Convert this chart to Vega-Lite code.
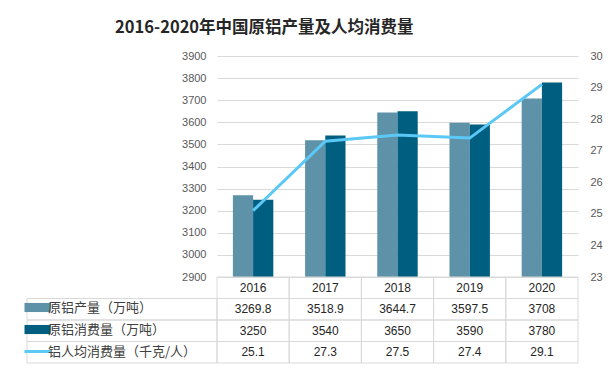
{
  "$schema": "https://vega.github.io/schema/vega-lite/v6.json",
  "padding": {"left": 26, "top": 19, "right": 8, "bottom": 6},
  "title": {
    "text": "2016-2020年中国原铝产量及人均消费量",
    "anchor": "middle",
    "dx": -50,
    "offset": 14,
    "fontSize": 16.5,
    "fontWeight": "bold",
    "font": "Noto Sans CJK SC",
    "color": "#262626"
  },
  "datasets": {
    "rows": [
      {"year": "2016", "series": "原铝产量（万吨）", "value": 3269.8},
      {"year": "2017", "series": "原铝产量（万吨）", "value": 3518.9},
      {"year": "2018", "series": "原铝产量（万吨）", "value": 3644.7},
      {"year": "2019", "series": "原铝产量（万吨）", "value": 3597.5},
      {"year": "2020", "series": "原铝产量（万吨）", "value": 3708},
      {"year": "2016", "series": "原铝消费量（万吨）", "value": 3250},
      {"year": "2017", "series": "原铝消费量（万吨）", "value": 3540},
      {"year": "2018", "series": "原铝消费量（万吨）", "value": 3650},
      {"year": "2019", "series": "原铝消费量（万吨）", "value": 3590},
      {"year": "2020", "series": "原铝消费量（万吨）", "value": 3780},
      {"year": "2016", "series": "铝人均消费量（千克/人）", "value": 25.1},
      {"year": "2017", "series": "铝人均消费量（千克/人）", "value": 27.3},
      {"year": "2018", "series": "铝人均消费量（千克/人）", "value": 27.5},
      {"year": "2019", "series": "铝人均消费量（千克/人）", "value": 27.4},
      {"year": "2020", "series": "铝人均消费量（千克/人）", "value": 29.1}
    ],
    "years": [
      {"year": "2016"}, {"year": "2017"}, {"year": "2018"}, {"year": "2019"}, {"year": "2020"}
    ],
    "series": [
      {"series": "原铝产量（万吨）"},
      {"series": "原铝消费量（万吨）"},
      {"series": "铝人均消费量（千克/人）"}
    ]
  },
  "columns": 2,
  "spacing": {"row": 0, "column": 0},
  "bounds": "flush",
  "align": "each",
  "resolve": {
    "scale": {"color": "independent", "x": "independent", "y": "independent"},
    "legend": {"color": "independent"}
  },
  "concat": [
    {
      "width": 190,
      "height": 221,
      "data": {"values": []},
      "mark": "point"
    },
    {
      "width": 361,
      "height": 221,
      "data": {"name": "rows"},
      "encoding": {
        "x": {
          "field": "year",
          "type": "nominal",
          "scale": {"paddingInner": 0.44, "paddingOuter": 0.22},
          "axis": null
        }
      },
      "layer": [
        {
          "transform": [{"filter": "datum.series !== '铝人均消费量（千克/人）'"}],
          "mark": {"type": "bar", "clip": true},
          "encoding": {
            "xOffset": {
              "field": "series",
              "type": "nominal",
              "sort": ["原铝产量（万吨）", "原铝消费量（万吨）"],
              "scale": {"paddingInner": 0, "paddingOuter": 0}
            },
            "y": {
              "field": "value",
              "type": "quantitative",
              "scale": {"domain": [2900, 3900], "zero": false, "nice": false},
              "axis": {
                "title": null,
                "format": "d",
                "values": [2900, 3000, 3100, 3200, 3300, 3400, 3500, 3600, 3700, 3800, 3900],
                "grid": true,
                "gridColor": "#d9d9d9",
                "domain": false,
                "ticks": false,
                "labelPadding": 11,
                "labelFontSize": 11,
                "labelColor": "#595959",
                "labelFont": "Liberation Sans"
              }
            },
            "y2": {"datum": 2900},
            "color": {
              "field": "series",
              "type": "nominal",
              "scale": {
                "domain": ["原铝产量（万吨）", "原铝消费量（万吨）"],
                "range": ["#5d92a8", "#005f80"]
              },
              "legend": null
            }
          }
        },
        {
          "transform": [{"filter": "datum.series === '铝人均消费量（千克/人）'"}],
          "mark": {"type": "line", "color": "#5bc8f5", "strokeWidth": 3},
          "encoding": {
            "y": {
              "field": "value",
              "type": "quantitative",
              "scale": {"domain": [23, 30], "zero": false, "nice": false},
              "axis": {
                "orient": "right",
                "title": null,
                "values": [23, 24, 25, 26, 27, 28, 29, 30],
                "grid": false,
                "domain": false,
                "ticks": false,
                "labelPadding": 12,
                "labelFontSize": 11,
                "labelColor": "#595959",
                "labelFont": "Liberation Sans"
              }
            }
          }
        }
      ],
      "resolve": {"scale": {"y": "independent"}}
    },
    {
      "width": 190,
      "height": 86,
      "data": {"name": "series"},
      "encoding": {
        "y": {
          "field": "series",
          "type": "nominal",
          "scale": {
            "domain": ["年份", "原铝产量（万吨）", "原铝消费量（万吨）", "铝人均消费量（千克/人）"],
            "paddingInner": 0,
            "paddingOuter": 0
          },
          "axis": null
        }
      },
      "layer": [
        {
          "mark": {"type": "rect", "fill": "transparent", "stroke": "#d9d9d9", "strokeWidth": 1}
        },
        {
          "mark": {"type": "point", "filled": true, "opacity": 0},
          "encoding": {
            "color": {
              "field": "series",
              "type": "nominal",
              "scale": {
                "domain": ["原铝产量（万吨）", "原铝消费量（万吨）", "铝人均消费量（千克/人）"],
                "range": ["#5d92a8", "#005f80", "#5bc8f5"]
              },
              "legend": {
                "orient": "none",
                "legendX": 4,
                "legendY": 24,
                "title": null,
                "padding": 0,
                "symbolSize": 676,
                "symbolType": "M-1,-0.35H1V0.35H-1Z",
                "symbolOpacity": 1,
                "symbolStrokeWidth": 0,
                "labelFontSize": 13,
                "labelColor": "#404040",
                "labelFont": "Noto Sans CJK SC",
                "labelOffset": 4,
                "rowPadding": 8,
                "encode": {
                  "symbols": {
                    "update": {
                      "shape": {"signal": "datum.value === '铝人均消费量（千克/人）' ? 'stroke' : 'M-1,-0.35H1V0.35H-1Z'"},
                      "stroke": {"signal": "datum.value === '铝人均消费量（千克/人）' ? '#5bc8f5' : 'transparent'"},
                      "strokeWidth": {"signal": "datum.value === '铝人均消费量（千克/人）' ? 3 : 0"},
                      "opacity": {"value": 1}
                    }
                  }
                }
              }
            }
          }
        }
      ]
    },
    {
      "width": 361,
      "height": 86,
      "encoding": {
        "x": {
          "field": "year",
          "type": "nominal",
          "scale": {"paddingInner": 0, "paddingOuter": 0},
          "axis": null
        },
        "y": {
          "field": "series",
          "type": "nominal",
          "scale": {
            "domain": ["年份", "原铝产量（万吨）", "原铝消费量（万吨）", "铝人均消费量（千克/人）"],
            "paddingInner": 0,
            "paddingOuter": 0
          },
          "axis": null
        }
      },
      "layer": [
        {
          "data": {"name": "rows"},
          "mark": {"type": "rect", "fill": "transparent", "stroke": "#d9d9d9", "strokeWidth": 1}
        },
        {
          "data": {"name": "rows"},
          "mark": {"type": "text", "fontSize": 12, "color": "#262626", "font": "Liberation Sans"},
          "encoding": {"text": {"field": "value", "type": "nominal"}}
        },
        {
          "data": {"name": "years"},
          "mark": {"type": "rect", "fill": "transparent", "stroke": "#d9d9d9", "strokeWidth": 1},
          "encoding": {"y": {"datum": "年份"}}
        },
        {
          "data": {"name": "years"},
          "mark": {"type": "text", "fontSize": 12, "color": "#262626", "font": "Liberation Sans"},
          "encoding": {"y": {"datum": "年份"}, "text": {"field": "year", "type": "nominal"}}
        }
      ]
    }
  ],
  "config": {"view": {"stroke": null}}
}
